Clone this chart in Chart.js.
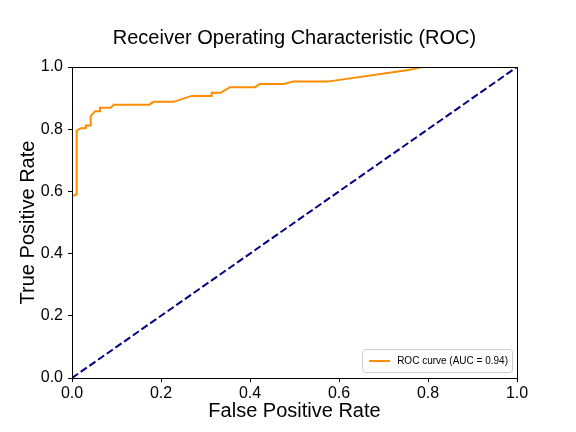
<!DOCTYPE html>
<html>
<head>
<meta charset="utf-8">
<script src="https://cdn.jsdelivr.net/npm/chart.js@4"></script>
<style>
    body { margin: 0; background: #fff; }
    #wrap { width: 576px; height: 432px; }
</style>
</head>
<body>
<div id="wrap"><canvas id="rocChart" width="576" height="432"></canvas></div>
<script>
// ROC curve values
const fpr = [0, 0, 0.0105, 0.0105, 0.0195, 0.031, 0.031, 0.042, 0.042, 0.052, 0.063, 0.063,
             0.087, 0.094, 0.174, 0.183, 0.228, 0.269, 0.314, 0.314, 0.334, 0.355, 0.411,
             0.422, 0.475, 0.497, 0.574, 0.756, 0.786, 1.0];
const tpr = [0, 0.585, 0.59, 0.795, 0.803, 0.803, 0.812, 0.812, 0.842, 0.858, 0.858, 0.869,
             0.869, 0.879, 0.879, 0.888, 0.888, 0.907, 0.907, 0.917, 0.917, 0.935, 0.935,
             0.945, 0.945, 0.953, 0.953, 0.99, 1.0, 1.0];
const chanceX = [0, 1];
const chanceY = [0, 1];
const tickValues = [0, 0.2, 0.4, 0.6, 0.8, 1.0];
const rocLabel = 'ROC curve (AUC = 0.94)';

const FONT = "'Liberation Sans', Arial, sans-serif";

// box around the plot area (matplotlib style spines)
const framePlugin = {
    id: 'frame',
    afterDatasetsDraw(chart) {
        const { ctx, chartArea: a } = chart;
        ctx.save();
        ctx.strokeStyle = '#000';
        ctx.lineWidth = 1;
        ctx.strokeRect(Math.round(a.left) + 0.5, Math.round(a.top) + 0.5,
            Math.round(a.right - a.left), Math.round(a.bottom - a.top));
        ctx.restore();
    }
};

// legend in the lower right corner of the plot
const cornerLegend = {
    id: 'cornerLegend',
    afterDraw(chart) {
        const { ctx, chartArea: a } = chart;
        const ds = chart.data.datasets[0];
        ctx.save();
        ctx.font = '10px ' + FONT;
        const tw = ctx.measureText(ds.label).width;
        const w = tw + 39, h = 23;
        const x = a.right - 5 - w, y = a.bottom - 6 - h;
        ctx.beginPath();
        ctx.roundRect(x + 0.5, y + 0.5, w, h, 3);
        ctx.fillStyle = 'rgba(255,255,255,0.8)';
        ctx.fill();
        ctx.strokeStyle = '#cccccc';
        ctx.lineWidth = 1;
        ctx.stroke();
        const cy = y + h / 2 + 0.5;
        ctx.beginPath();
        ctx.moveTo(x + 7, cy);
        ctx.lineTo(x + 28, cy);
        ctx.strokeStyle = ds.borderColor;
        ctx.lineWidth = 2;
        ctx.stroke();
        ctx.fillStyle = '#000';
        ctx.textBaseline = 'middle';
        ctx.textAlign = 'left';
        ctx.fillText(ds.label, x + 35, cy);
        ctx.restore();
    }
};

function axisOptions(title, isX) {
    return {
        type: 'linear',
        min: 0,
        max: 1,
        afterBuildTicks: (scale) => {
            scale.ticks = tickValues.map(v => ({ value: v }));
        },
        afterFit: (scale) => {
            if (isX) scale.height = 54;
            else scale.width = 72;
        },
        grid: {
            display: true,
            drawOnChartArea: false,
            drawTicks: true,
            tickLength: 4,
            color: '#000'
        },
        border: { display: false },
        ticks: {
            color: '#000',
            padding: isX ? 2 : 5,
            maxRotation: 0,
            font: { family: FONT, size: 16 },
            callback: (v) => Number(v).toFixed(1)
        },
        title: {
            display: true,
            text: title,
            color: '#000',
            font: { family: FONT, size: 20 },
            padding: isX ? { top: 0, bottom: 9 } : { top: 16, bottom: 0 }
        }
    };
}

new Chart(document.getElementById('rocChart').getContext('2d'), {
    type: 'line',
    data: {
        datasets: [{
            label: rocLabel,
            data: fpr.map((x, i) => ({ x: x, y: tpr[i] })),
            borderColor: '#ff8c00',
            borderWidth: 2,
            pointRadius: 0,
            tension: 0,
            fill: false
        }, {
            label: 'chance',
            data: chanceX.map((x, i) => ({ x: x, y: chanceY[i] })),
            borderColor: '#000080',
            borderWidth: 2,
            borderDash: [7.4, 3.2],
            pointRadius: 0,
            tension: 0,
            fill: false
        }]
    },
    options: {
        responsive: false,
        animation: false,
        layout: { padding: { left: 0, right: 59, top: 0, bottom: 0 } },
        plugins: {
            legend: { display: false },
            tooltip: { enabled: false },
            title: {
                display: true,
                fullSize: false,
                text: 'Receiver Operating Characteristic (ROC)',
                color: '#000',
                font: { family: FONT, size: 20, weight: 'normal' },
                padding: { top: 26, bottom: 17 }
            }
        },
        scales: {
            x: axisOptions('False Positive Rate', true),
            y: axisOptions('True Positive Rate', false)
        }
    },
    plugins: [framePlugin, cornerLegend]
});
</script>
</body>
</html>
